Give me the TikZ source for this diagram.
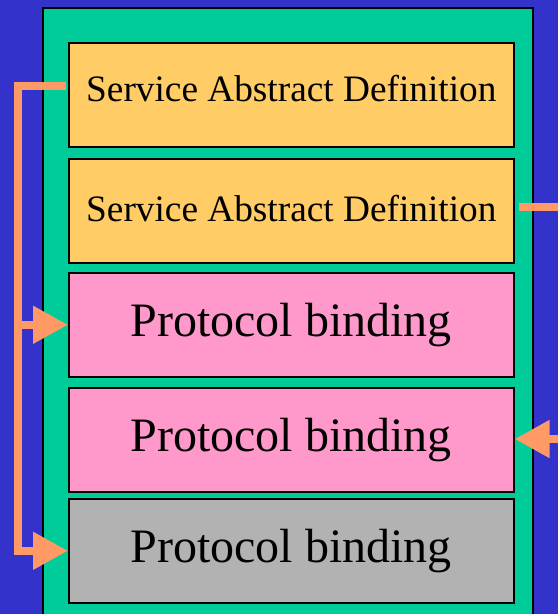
\documentclass[tikz,border=0pt]{standalone}
\usepackage{fontspec}
\setmainfont{Liberation Serif}
\usetikzlibrary{arrows.meta}

\definecolor{bgblue}{HTML}{3333CC}
\definecolor{panelgreen}{HTML}{00CC99}
\definecolor{defyellow}{HTML}{FFCC66}
\definecolor{bindpink}{HTML}{FF99CC}
\definecolor{bindgray}{HTML}{B2B2B2}
\definecolor{linkorange}{HTML}{FF9966}

\tikzset{
  layer/.style={draw=black, line width=1.6pt, minimum width=445pt,
    minimum height=104pt, inner sep=0pt, anchor=north west},
  defbox/.style={layer, fill=defyellow, font=\fontsize{37.3}{40}\selectfont},
  bindbox/.style={layer, font=\fontsize{48}{50}\selectfont},
  link/.style={draw=linkorange, line width=8pt, line join=miter},
  linkarrow/.style={link, -{Triangle[length=35pt,width=36pt]}},
}

\begin{document}
\begin{tikzpicture}[x=1pt,y=-1pt]
  \useasboundingbox (0,0) rectangle (558,614);
  \clip (0,0) rectangle (558,614);
  \fill[bgblue] (0,0) rectangle (558,614);

  % outer document panel
  \filldraw[fill=panelgreen, draw=black, line width=2pt] (43,8) rectangle (533,650);

  % stacked layers
  \node[defbox]  (b1) at (68,42)  {\raisebox{12pt}{Service Abstract Definition}};
  \node[defbox]  (b2) at (68,158) {\raisebox{4pt}{Service Abstract Definition}};
  \node[bindbox, fill=bindpink] (b3) at (68,272) {Protocol binding};
  \node[bindbox, fill=bindpink] (b4) at (68,387) {Protocol binding};
  \node[bindbox, fill=bindgray] (b5) at (68,498) {Protocol binding};

  % left reference link: from the first definition down to two bindings
  \coordinate (s1) at (66,86);
  \coordinate (ltop) at (18,86);
  \draw[linkarrow] (s1) -- (ltop) -- (ltop |- b5.west) -- (b5.west);
  \draw[linkarrow] (ltop |- b3.west) -- (b3.west);

  % right reference link: leaves the second definition, returns to the fourth layer
  \coordinate (r1) at (519,207);
  \coordinate (r1e) at (575,207);
  \draw[link] (r1) -- (r1e);
  \coordinate (r2) at (575,439);
  \draw[linkarrow] (r2) -- (r2 -| b4.east);
\end{tikzpicture}
\end{document}
